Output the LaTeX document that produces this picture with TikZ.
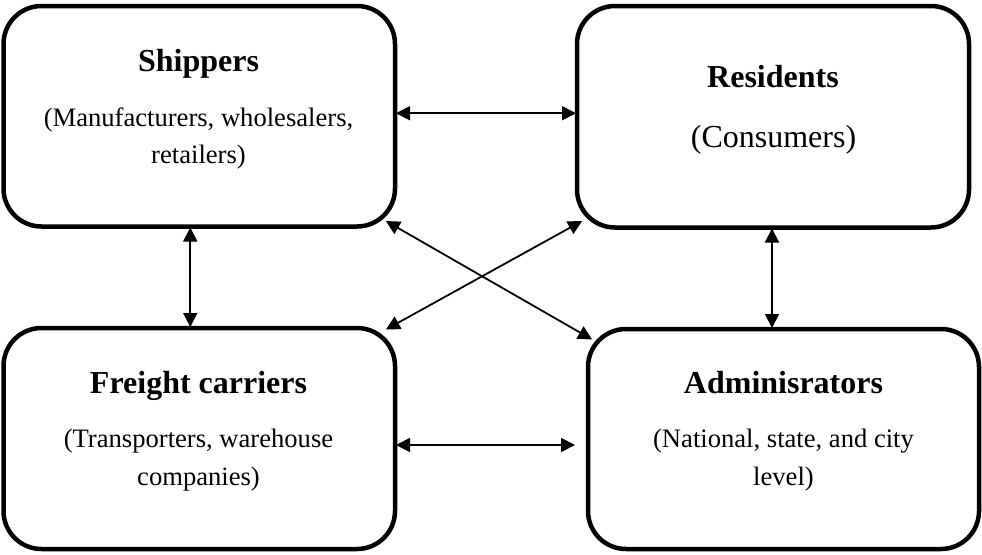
\documentclass[tikz,border=0pt]{standalone}
\usepackage{fontspec}
\setmainfont{Liberation Serif}
\usetikzlibrary{arrows.meta}
\tikzset{
  box/.style={draw, line width=4.5pt, rounded corners=38pt, inner sep=0pt, outer sep=0pt},
  ttl/.style={anchor=base, inner sep=0pt, font=\fontsize{32}{38}\selectfont\bfseries},
  sub/.style={anchor=base, inner sep=0pt, font=\fontsize{26.6}{37}\selectfont},
  big/.style={anchor=base, inner sep=0pt, font=\fontsize{32}{38}\selectfont},
  link/.style={line width=1.8pt, {Triangle[length=14pt,width=14pt]}-{Triangle[length=14pt,width=14pt]}, shorten >=1pt, shorten <=1pt}
}
\begin{document}
\begin{tikzpicture}[x=1pt,y=-1pt]
\useasboundingbox (0,0) rectangle (982,554);
% boxes
\node[box, minimum width=391.5pt, minimum height=220.5pt] (ship) at (199.25,116.25) {};
\node[box, minimum width=392pt, minimum height=221.5pt] (res) at (773,116.75) {};
\node[box, minimum width=391.5pt, minimum height=221pt] (frt) at (199.25,438.5) {};
\node[box, minimum width=391pt, minimum height=220pt] (adm) at (783.5,439) {};
% texts
\node[ttl] (shipT) at (198.5,71) {Shippers};
\node[sub] (shipS1) at (198.5,126) {(Manufacturers, wholesalers,};
\node[sub] (shipS2) at (198.5,163) {retailers)};
\node[ttl] (resT) at (773,87) {Residents};
\node[big] (resS) at (773.5,147) {(Consumers)};
\node[ttl] (frtT) at (198.5,393) {Freight carriers};
\node[sub] (frtS1) at (198.5,447) {(Transporters, warehouse};
\node[sub] (frtS2) at (198.5,485) {companies)};
\node[ttl] (admT) at (783.5,393) {Adminisrators};
\node[sub] (admS1) at (783.5,447) {(National, state, and city};
\node[sub] (admS2) at (783.5,485) {level)};
% connectors
\draw[link] ([yshift=3pt]ship.east) -- ([yshift=3pt]ship.east -| res.west);
\draw[link] ([yshift=-6.5pt]frt.east) -- ([yshift=-6.5pt, xshift=-12pt]frt.east -| adm.west);
\draw[link] ([xshift=-9pt]ship.south) -- ([xshift=-9pt]ship.south |- frt.north);
\draw[link] ([xshift=-1pt]res.south) -- ([xshift=-1pt]res.south |- adm.north);
\draw[link] ([xshift=-10pt,yshift=6pt]ship.south east) -- ([xshift=5pt,yshift=-11pt]adm.north west);
\draw[link] ([xshift=6pt,yshift=7pt]res.south west) -- ([xshift=-10pt,yshift=-2pt]frt.north east);
\end{tikzpicture}
\end{document}
